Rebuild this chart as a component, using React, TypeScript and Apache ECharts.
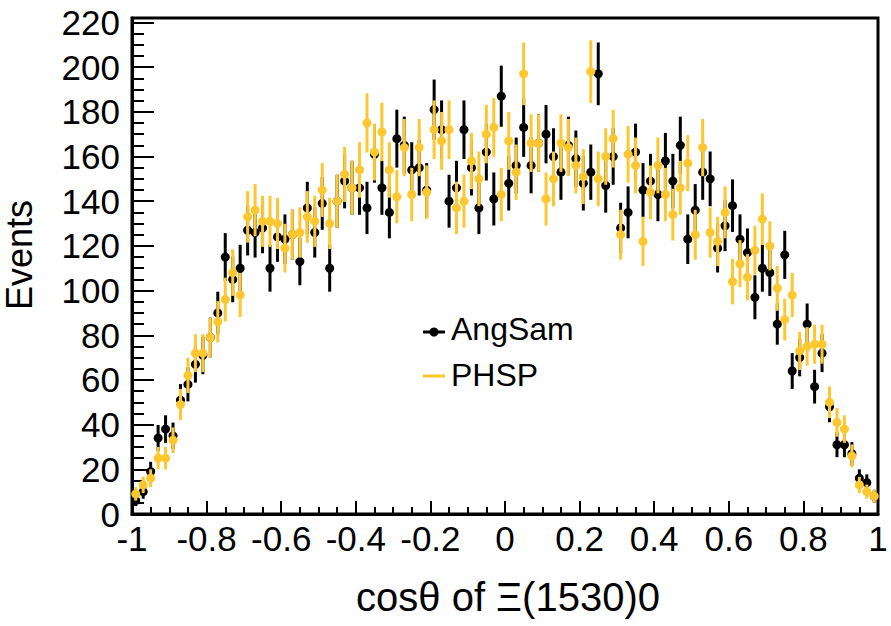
import React, { useEffect, useRef } from "react";
import * as echarts from "echarts";

const BIN_MIN = -1;
const BIN_WIDTH = 0.02;

const ANGSAM = [
  6, 10, 19, 34, 38, 35, 51, 58, 67, 71,
  79, 90, 115, 105, 110, 127, 126, 128, 110, 124,
  123, 125, 113, 137, 126, 139, 110, 140, 149, 146,
  146, 137, 161, 146, 135, 168, 165, 154, 155, 145,
  181, 172, 140, 146, 172, 155, 137, 162, 141, 187,
  148, 156, 173, 156, 166, 170, 160, 153, 165, 159,
  148, 153, 197, 147, 160, 128, 135, 162, 145, 149,
  143, 158, 149, 165, 123, 136, 153, 150, 119, 129,
  138, 123, 117, 97, 110, 108, 85, 116, 64, 70,
  85, 57, 72, 48, 31, 31, 27, 16, 14, 8,
];

const PHSP = [
  9, 13, 16, 25, 25, 33, 49, 62, 72, 72,
  79, 86, 96, 108, 98, 133, 136, 131, 131, 130,
  119, 125, 126, 133, 131, 145, 130, 140, 152, 146,
  154, 175, 162, 171, 154, 142, 164, 143, 164, 144,
  172, 167, 172, 137, 140, 158, 150, 170, 173, 143,
  167, 153, 197, 166, 166, 141, 150, 166, 164, 156,
  151, 198, 150, 160, 168, 125, 161, 156, 122, 144,
  156, 143, 134, 146, 157, 125, 164, 126, 122, 135,
  104, 112, 106, 118, 132, 120, 101, 87, 98, 73,
  75, 76, 76, 50, 41, 38, 26, 13, 10, 8,
];

const X_TICKS = [-1, -0.8, -0.6, -0.4, -0.2, 0, 0.2, 0.4, 0.6, 0.8, 1];
const Y_TICKS = [0, 20, 40, 60, 80, 100, 120, 140, 160, 180, 200, 220];

const BLACK = "#000000";
const YELLOW = "#fdc72f";
const FONT = "'Liberation Sans', Arial, Helvetica, sans-serif";

function toPoints(values: number[]) {
  return values.map((v, i) => [
    +(BIN_MIN + BIN_WIDTH * (i + 0.5)).toFixed(4),
    v,
    Math.sqrt(v),
  ]);
}

function makeRender(color: string) {
  return (params: any, api: any) => {
    const x = api.value(0);
    const y = api.value(1);
    const e = api.value(2);
    const p = api.coord([x, y]);
    const top = api.coord([x, y + e]);
    const bot = api.coord([x, Math.max(0, y - e)]);
    return {
      type: "group",
      children: [
        {
          type: "line",
          shape: { x1: p[0], y1: top[1], x2: p[0], y2: bot[1] },
          style: { stroke: color, lineWidth: 3 },
        },
        {
          type: "circle",
          shape: { cx: p[0], cy: p[1], r: 4.5 },
          style: { fill: color },
        },
      ],
    };
  };
}

export default function App() {
  const ref = useRef<HTMLDivElement>(null);
  useEffect(() => {
    if (!ref.current) return;
    const chart = echarts.init(ref.current, null, { renderer: "svg" });
    const axisLabelStyle = { color: "#000", fontSize: 35, fontFamily: FONT };
    chart.setOption({
      animation: false,
      backgroundColor: "#fff",
      grid: {
        left: 132,
        right: 13,
        top: 18,
        bottom: 112,
        show: true,
        borderColor: "#000",
        borderWidth: 3,
        backgroundColor: "transparent",
      },
      xAxis: {
        type: "value",
        min: -1,
        max: 1,
        interval: 0.2,
        axisLine: { show: true, onZero: false, lineStyle: { color: "#000", width: 3 } },
        axisTick: { show: true, inside: true, length: 13, lineStyle: { color: "#000", width: 2 } },
        minorTick: { show: true, splitNumber: 4, length: 7, lineStyle: { color: "#000", width: 2 } },
        splitLine: { show: false },
        axisLabel: {
          ...axisLabelStyle,
          margin: 7,
          formatter: (v: number) => {
            const t = X_TICKS.find((k) => Math.abs(k - v) < 1e-6);
            return t === undefined ? "" : String(t);
          },
        },
      },
      yAxis: {
        type: "value",
        min: 0,
        max: 222,
        interval: 20,
        axisLine: { show: true, onZero: false, lineStyle: { color: "#000", width: 3 } },
        axisTick: { show: true, inside: true, length: 22, lineStyle: { color: "#000", width: 2 } },
        minorTick: { show: true, splitNumber: 4, length: 12, lineStyle: { color: "#000", width: 2 } },
        splitLine: { show: false },
        axisLabel: {
          ...axisLabelStyle,
          margin: 12,
          showMaxLabel: false,
          formatter: (v: number) => (Y_TICKS.includes(v) ? String(v) : ""),
        },
      },
      series: [
        {
          name: "AngSam",
          type: "custom",
          renderItem: makeRender(BLACK),
          encode: { x: 0, y: 1 },
          data: toPoints(ANGSAM),
          itemStyle: { color: BLACK },
          z: 2,
        },
        {
          name: "PHSP",
          type: "custom",
          renderItem: makeRender(YELLOW),
          encode: { x: 0, y: 1 },
          data: toPoints(PHSP),
          itemStyle: { color: YELLOW },
          z: 3,
        },
      ],
      graphic: [
        {
          type: "text",
          x: 19,
          y: 255,
          rotation: Math.PI / 2,
          style: {
            text: "Events",
            fill: "#000",
            font: `36px ${FONT}`,
            textAlign: "center",
            textVerticalAlign: "middle",
          },
        },
        {
          type: "text",
          x: 508,
          y: 597,
          style: {
            text: "cosθ of Ξ(1530)0",
            fill: "#000",
            font: `40px ${FONT}`,
            textAlign: "center",
            textVerticalAlign: "middle",
          },
        },
        {
          type: "line",
          shape: { x1: 423, y1: 332, x2: 445, y2: 332 },
          style: { stroke: BLACK, lineWidth: 3 },
        },
        {
          type: "circle",
          shape: { cx: 434, cy: 332, r: 4.5 },
          style: { fill: BLACK },
        },
        {
          type: "text",
          x: 451,
          y: 329,
          style: {
            text: "AngSam",
            fill: "#000",
            font: `32px ${FONT}`,
            textAlign: "left",
            textVerticalAlign: "middle",
          },
        },
        {
          type: "line",
          shape: { x1: 423, y1: 376, x2: 445, y2: 376 },
          style: { stroke: YELLOW, lineWidth: 3 },
        },
        {
          type: "text",
          x: 451,
          y: 375,
          style: {
            text: "PHSP",
            fill: "#000",
            font: `32px ${FONT}`,
            textAlign: "left",
            textVerticalAlign: "middle",
          },
        },
      ],
    });
    return () => chart.dispose();
  }, []);
  return (
    <div
      ref={ref}
      style={{ position: "fixed", left: 0, top: 0, width: 891, height: 626 }}
    />
  );
}
